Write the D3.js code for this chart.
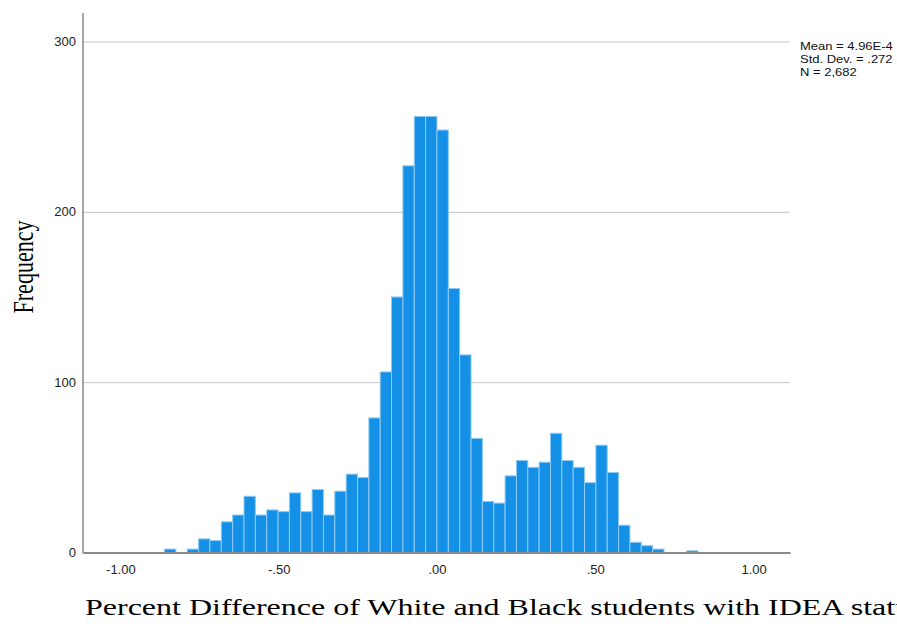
<!DOCTYPE html>
<html>
<head>
<meta charset="utf-8">
<script src="https://cdn.jsdelivr.net/npm/d3@7"></script>
<style>
  body { margin: 0; background: #fff; }
  svg { display: block; }
</style>
</head>
<body>
<svg id="hist" width="897" height="626"></svg>
<script>
// histogram bins (lower edge of each bin) and their counts
let binEdges = [-0.8604, -0.8246, -0.7887, -0.7529, -0.7170, -0.6812, -0.6453, -0.6095,
    -0.5736, -0.5378, -0.5019, -0.4661, -0.4302, -0.3944, -0.3585, -0.3227,
    -0.2868, -0.2510, -0.2151, -0.1793, -0.1434, -0.1076, -0.0717, -0.0359,
    0.0000, 0.0359, 0.0717, 0.1076, 0.1434, 0.1793, 0.2151, 0.2510,
    0.2868, 0.3227, 0.3585, 0.3944, 0.4302, 0.4661, 0.5019, 0.5378,
    0.5736, 0.6095, 0.6453, 0.6812, 0.7170, 0.7529, 0.7887];
let binWidth = 0.03585;
let counts = [2, 0, 2, 8, 7, 18, 22, 33,
    22, 25, 24, 35, 24, 37, 22, 36,
    46, 44, 79, 106, 150, 227, 256, 256,
    248, 155, 116, 67, 30, 29, 45, 54,
    50, 53, 70, 54, 50, 41, 63, 47,
    16, 6, 4, 2, 0, 0, 1];

let xTicks = [-1, -0.5, 0, 0.5, 1];
let xTickLabels = ["-1.00", "-.50", ".00", ".50", "1.00"];
let yTicks = [0, 100, 200, 300];
let statLines = ["Mean = 4.96E-4", "Std. Dev. = .272", "N = 2,682"];
let xTitle = "Percent Difference of White and Black students with IDEA status";
let yTitle = "Frequency";

let svg = d3.select("#hist");
let pLeft = 83, pRight = 790, pTop = 13, pBottom = 552.5;

let x = d3.scaleLinear().domain([-1.118, 1.115]).range([pLeft, pRight]);
let y = d3.scaleLinear().domain([0, 316.7]).range([pBottom, pTop]);

// gridlines + y axis
let yAxis = svg.append("g")
    .attr("transform", "translate(" + pLeft + ",0)")
    .call(d3.axisLeft(y).tickValues(yTicks)
        .tickSizeInner(-(pRight - pLeft)).tickSizeOuter(0).tickPadding(7));
yAxis.select(".domain").remove();
yAxis.selectAll(".tick line").attr("stroke", "#c4c4c4").attr("stroke-width", 1);
yAxis.selectAll(".tick text")
    .attr("font-family", "'Liberation Sans', Arial, sans-serif")
    .attr("font-size", "13px")
    .attr("fill", "#222");

// bars
let data = counts.map(function(c, i) { return { lo: binEdges[i], n: c }; })
    .filter(function(d) { return d.n > 0; });

svg.selectAll(".bar")
    .data(data)
    .enter().append("rect")
    .attr("class", "bar")
    .attr("x", function(d) { return x(d.lo); })
    .attr("y", function(d) { return y(d.n); })
    .attr("width", function(d) { return x(d.lo + binWidth) - x(d.lo); })
    .attr("height", function(d) { return y(0) - y(d.n); })
    .attr("fill", "#1490e6")
    .attr("stroke", "#8fcaf3")
    .attr("stroke-width", 1);

// x axis
let xAxis = svg.append("g")
    .attr("transform", "translate(0," + pBottom + ")")
    .call(d3.axisBottom(x).tickValues(xTicks)
        .tickSize(0).tickPadding(12)
        .tickFormat(function(d, i) { return xTickLabels[i]; }));
xAxis.select(".domain").attr("stroke", "#8a8a8a").attr("stroke-width", 2);
xAxis.selectAll(".tick text")
    .attr("font-family", "'Liberation Sans', Arial, sans-serif")
    .attr("font-size", "13px")
    .attr("fill", "#222");

// vertical axis line
svg.append("line")
    .attr("x1", pLeft).attr("x2", pLeft)
    .attr("y1", pTop).attr("y2", pBottom + 1)
    .attr("stroke", "#8a8a8a")
    .attr("stroke-width", 1.5);

// stats box
svg.append("g").selectAll("text")
    .data(statLines)
    .enter().append("text")
    .attr("transform", function(d, i) { return "translate(800," + (50 + i * 13) + ") scale(1,0.8)"; })
    .attr("font-family", "'Liberation Sans', Arial, sans-serif")
    .attr("font-size", "13px")
    .attr("fill", "#111")
    .text(function(d) { return d; });

// axis titles
svg.append("text")
    .attr("transform", "translate(85,615) scale(1,0.71)")
    .attr("font-family", "'Liberation Serif', 'Times New Roman', serif")
    .attr("font-size", "32px")
    .attr("fill", "#000")
    .text(xTitle);

svg.append("text")
    .attr("transform", "translate(33,267) rotate(-90) scale(0.734,1)")
    .attr("text-anchor", "middle")
    .attr("font-family", "'Liberation Serif', 'Times New Roman', serif")
    .attr("font-size", "30px")
    .attr("fill", "#000")
    .text(yTitle);
</script>
</body>
</html>
